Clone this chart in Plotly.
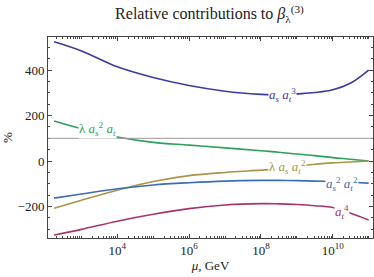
import plotly.graph_objects as go

# log10(mu / GeV) sample points
log_mu = [2.24, 3, 4, 5, 6, 7, 8, 8.5, 9, 9.5, 10, 10.5, 11]

as_at3 = [524, 484, 414, 367, 332, 307, 293, 290, 295, 301, 313, 343, 400]
lam_as2_at = [176, 142, 106, 82, 70, 58, 45, 39, 31, 24, 15, 8, 0]
lam_as_at2 = [-207, -172, -128, -90, -64, -50, -40, -34, -24, -14, -8, -4, 0]
as2_at2 = [-163, -145, -122, -105, -95, -88, -85, -85, -86, -88, -90, -93, -97]
at4 = [-325, -300, -264, -234, -209, -193, -187, -188, -191, -196, -204, -229, -259]

series = [
    ("as_at3", as_at3, "#3b3ba3"),
    ("lam_as2_at", lam_as2_at, "#2fa05c"),
    ("lam_as_at2", lam_as_at2, "#a8954a"),
    ("as2_at2", as2_at2, "#3e6db5"),
    ("at4", at4, "#a8346f"),
]

labels = [
    ("<i>a<sub>s</sub> a<sub>t</sub></i><sup>3</sup>", 8.6, 290, "#3b3ba3"),
    ("λ <i>a<sub>s</sub></i><sup>2</sup> <i>a<sub>t</sub></i>", 3.45, 140, "#2fa05c"),
    ("λ <i>a<sub>s</sub> a<sub>t</sub></i><sup>2</sup>", 8.75, -28, "#a8954a"),
    ("<i>a<sub>s</sub></i><sup>2</sup> <i>a<sub>t</sub></i><sup>2</sup>", 10.25, -100, "#3e6db5"),
    ("<i>a<sub>t</sub></i><sup>4</sup>", 10.25, -222, "#a8346f"),
]

x_tick_exp = [4, 6, 8, 10]
y_ticks = [-200, 0, 200, 400]

mu = [10 ** v for v in log_mu]

fig = go.Figure()
fig.add_shape(type="line", xref="paper", x0=0, x1=1, y0=100, y1=100,
              line=dict(color="#999999", width=1))
for name, vals, col in series:
    fig.add_trace(go.Scatter(x=mu, y=vals, mode="lines", name=name,
                             line=dict(color=col, width=1.6, shape="spline"),
                             showlegend=False, cliponaxis=True))
for txt, lx, ly, col in labels:
    fig.add_annotation(x=lx, y=ly, text=txt, showarrow=False,
                       font=dict(family="Liberation Serif", size=13, color=col),
                       bgcolor="white", borderpad=0)

axis_common = dict(showline=True, mirror="allticks", linecolor="#444444", linewidth=1,
                   ticks="inside", ticklen=4, tickcolor="#444444", showgrid=False,
                   zeroline=False, automargin=False,
                   tickfont=dict(family="Liberation Serif", size=13, color="#222222"))

fig.update_xaxes(type="log", range=[2.07, 11.12],
                 tickvals=[10 ** e for e in x_tick_exp],
                 ticktext=[f"10<sup>{e}</sup>" for e in x_tick_exp],
                 minor=dict(ticks="inside", ticklen=2, tickcolor="#444444", dtick="D1"),
                 title=dict(text="<i>μ</i>, GeV", standoff=0,
                            font=dict(family="Liberation Serif", size=13, color="#222222")),
                 **axis_common)
fig.update_yaxes(range=[-338, 545], tickvals=y_ticks,
                 minor=dict(ticks="inside", ticklen=2, tickcolor="#444444", dtick=50, tick0=0),
                 title=dict(text="%", standoff=8,
                            font=dict(family="Liberation Serif", size=13, color="#222222")),
                 **axis_common)

fig.update_layout(
    width=374, height=277,
    margin=dict(l=48, r=1, t=37, b=39, autoexpand=False),
    paper_bgcolor="white", plot_bgcolor="white",
    title=dict(text="Relative contributions to <i>β</i><sub>λ</sub><sup>(3)</sup>",
               x=0.56, xanchor="center", y=0.95, yanchor="middle", automargin=False,
               font=dict(family="Liberation Serif", size=16, color="#222222")),
)

fig.write_html("out.html", config={"displayModeBar": False},
               post_script="document.body.style.margin='0';document.body.style.padding='0';")
